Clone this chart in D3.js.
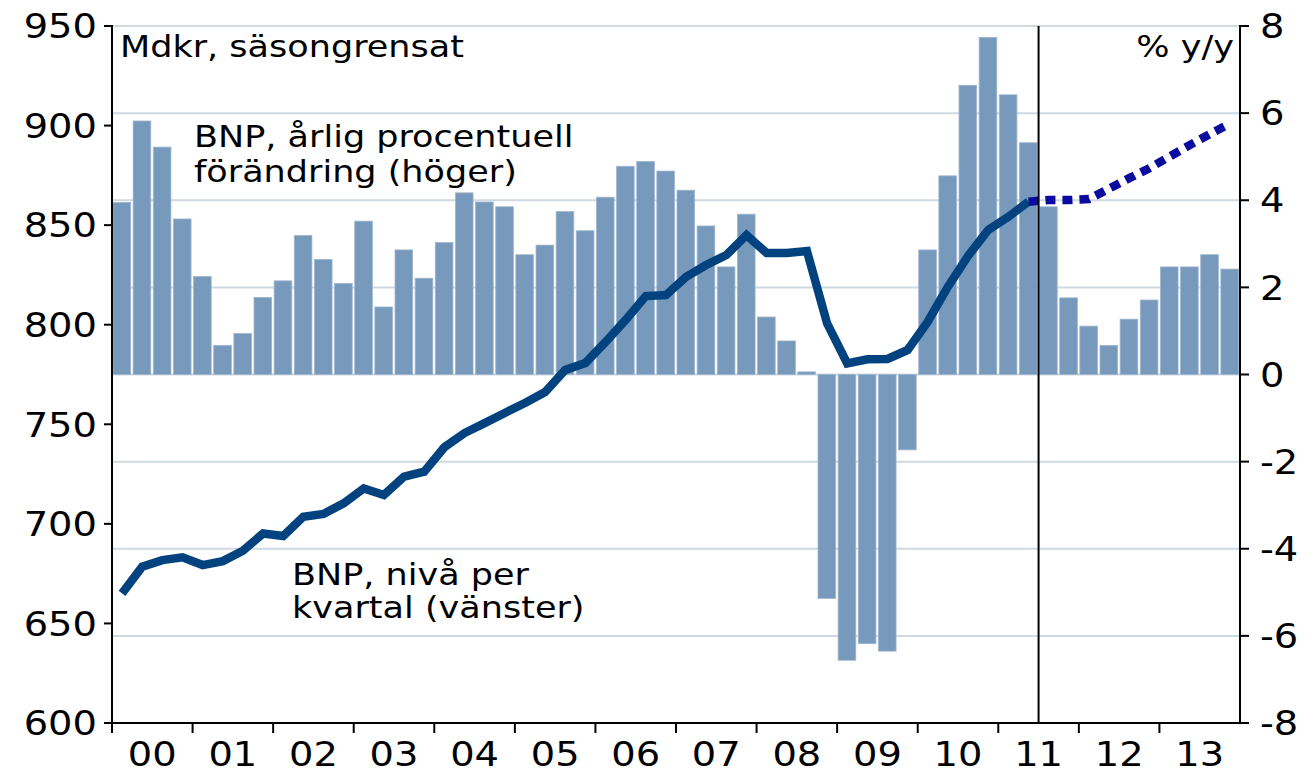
<!DOCTYPE html>
<html>
<head>
<meta charset="utf-8">
<script src="https://cdn.jsdelivr.net/npm/d3@7"></script>
<style>
  html, body { margin: 0; padding: 0; background: #ffffff; }
  svg { display: block; }
  text { font-family: "DejaVu Sans", Verdana, sans-serif; fill: #000; }
</style>
</head>
<body>
<svg id="chart" width="1308" height="768"></svg>
<script>
// ---------- DATA ----------
const years = ["00","01","02","03","04","05","06","07","08","09","10","11","12","13"];
const quarterNames = ["Q1","Q2","Q3","Q4"];

// BNP, årlig procentuell förändring (höger), % y/y, per quarter 2000Q1–2013Q4
const growth = [
  3.95, 5.82, 5.22, 3.57,
  2.25, 0.67, 0.94, 1.77,
  2.15, 3.19, 2.64, 2.09,
  3.52, 1.55, 2.86, 2.21,
  3.03, 4.17, 3.96, 3.85,
  2.75, 2.97, 3.74, 3.30,
  4.07, 4.78, 4.89, 4.67,
  4.23, 3.41, 2.47, 3.68,
  1.32, 0.77, 0.06, -5.14,
  -6.56, -6.18, -6.35, -1.73,
  2.86, 4.56, 6.64, 7.74,
  6.42, 5.32, 3.85, 1.76,
  1.11, 0.67, 1.27, 1.71,
  2.47, 2.47, 2.75, 2.42
];

// BNP, nivå per kvartal (vänster), Mdkr, 2000Q1–2011Q2 (utfall)
const level = [
  665.1, 678.5, 681.8, 683.2,
  679.3, 681.3, 686.5, 695.2,
  693.9, 703.6, 705.0, 710.3,
  717.8, 714.5, 723.7, 726.2,
  738.5, 745.6, 750.6, 755.7,
  760.7, 766.2, 777.3, 780.8,
  791.3, 802.4, 814.4, 814.9,
  824.0, 830.0, 835.0, 845.0,
  836.0, 836.0, 837.0, 800.7,
  780.6, 782.6, 782.8, 787.3,
  801.5, 819.1, 834.5, 847.6,
  854.2, 861.8
];

// Prognos, 2011Q2–2013Q4
const forecast = [861.8, 862.6, 862.6, 863.1, 868.3, 873.6, 878.6, 884.4, 890.2, 895.7, 901.0];
const forecastStart = 45; // index of 2011Q2

const leftTicks = [600, 650, 700, 750, 800, 850, 900, 950];
const rightTicks = [-8, -6, -4, -2, 0, 2, 4, 6, 8];
const gridTicks = [-6, -4, -2, 0, 2, 4, 6, 8];
const forecastLineAt = "11Q3";

const labelLevel = "Mdkr, säsongrensat";
const labelPct = "% y/y";
const labelGrowth = ["BNP, årlig procentuell", "förändring (höger)"];
const labelLevelSeries = ["BNP, nivå per", "kvartal (vänster)"];

// ---------- LAYOUT ----------
const pLeft = 112, pRight = 1240, pTop = 26, pBottom = 723;
const fontSize = 31, sx = 1.13;
const tickFont = 34, tickSx = 1.13;
const barColor = "#7799bc", barEdge = "#9fb6cf";
const lineColor = "#02437f", fcColor = "#0b0ba0", gridColor = "#cfd9e1";

const quarters = [];
years.forEach(y => quarterNames.forEach(q => quarters.push(y + q)));

const svg = d3.select("#chart");

const x = d3.scaleBand().domain(quarters).range([pLeft, pRight]).padding(0);
const xMid = q => x(q) + x.bandwidth() / 2;
const yL = d3.scaleLinear().domain([600, 950]).range([pBottom, pTop]);
const yR = d3.scaleLinear().domain([-8, 8]).range([pBottom, pTop]);

// grid
svg.append("g").selectAll("line").data(gridTicks).join("line")
  .attr("x1", pLeft).attr("x2", pRight)
  .attr("y1", d => yR(d)).attr("y2", d => yR(d))
  .attr("stroke", gridColor).attr("stroke-width", 2);

// bars
svg.append("g").selectAll("rect").data(growth).join("rect")
  .attr("x", (d, i) => x(quarters[i]) + 1)
  .attr("width", x.bandwidth() - 2.5)
  .attr("y", d => yR(Math.max(0, d)))
  .attr("height", d => Math.abs(yR(d) - yR(0)))
  .attr("fill", barColor)
  .attr("stroke", barEdge).attr("stroke-width", 0.8);

// level line
const line = d3.line().x(d => xMid(d.q)).y(d => yL(d.v));
svg.append("path")
  .datum(level.map((v, i) => ({ q: quarters[i], v })))
  .attr("d", line)
  .attr("fill", "none").attr("stroke", lineColor)
  .attr("stroke-width", 8.5).attr("stroke-linejoin", "miter");

// forecast line
svg.append("path")
  .datum(forecast.map((v, i) => ({ q: quarters[forecastStart + i], v })))
  .attr("d", line)
  .attr("fill", "none").attr("stroke", fcColor)
  .attr("stroke-width", 8.5).attr("stroke-dasharray", "10 7");

// forecast separator
svg.append("line")
  .attr("x1", x(forecastLineAt)).attr("x2", x(forecastLineAt))
  .attr("y1", pTop).attr("y2", pBottom)
  .attr("stroke", "#000").attr("stroke-width", 2);

// axes lines
const axisG = svg.append("g").attr("stroke", "#000").attr("stroke-width", 2);
axisG.append("line").attr("x1", pLeft).attr("x2", pLeft).attr("y1", pTop - 1).attr("y2", pBottom + 10);
axisG.append("line").attr("x1", pRight).attr("x2", pRight).attr("y1", pTop - 1).attr("y2", pBottom);
axisG.append("line").attr("x1", pLeft - 8).attr("x2", pRight + 9).attr("y1", pBottom).attr("y2", pBottom);
axisG.selectAll(".lt").data(leftTicks).join("line").attr("class", "lt")
  .attr("x1", pLeft - 8).attr("x2", pLeft).attr("y1", d => yL(d)).attr("y2", d => yL(d));
axisG.selectAll(".rt").data(rightTicks).join("line").attr("class", "rt")
  .attr("x1", pRight).attr("x2", pRight + 9).attr("y1", d => yR(d)).attr("y2", d => yR(d));
axisG.selectAll(".bt").data(years.slice(1)).join("line").attr("class", "bt")
  .attr("x1", d => x(d + "Q1")).attr("x2", d => x(d + "Q1"))
  .attr("y1", pBottom).attr("y2", pBottom + 10);

// labels
function label(g, txt, px, py, anchor, fs, scx) {
  g.append("text")
    .attr("transform", `translate(${px},${py}) scale(${scx},1)`)
    .attr("text-anchor", anchor)
    .attr("font-size", fs)
    .text(txt);
}
const tl = svg.append("g");
leftTicks.forEach(v => label(tl, String(v), pLeft - 15, yL(v) + tickFont * 0.36, "end", tickFont, tickSx));
rightTicks.forEach(v => label(tl, String(v), pRight + 20, yR(v) + tickFont * 0.36, "start", tickFont, tickSx));
years.forEach(y => label(tl, y, x(y + "Q2") + x.bandwidth(), 766, "middle", tickFont, tickSx));

label(tl, labelLevel, 120, 57, "start", fontSize, sx);
label(tl, labelPct, 1234, 57, "end", fontSize, sx);
labelGrowth.forEach((t, i) => label(tl, t, 194, 147 + i * 35, "start", fontSize, sx));
labelLevelSeries.forEach((t, i) => label(tl, t, 292, 585 + i * 33, "start", fontSize, sx));
</script>
</body>
</html>
